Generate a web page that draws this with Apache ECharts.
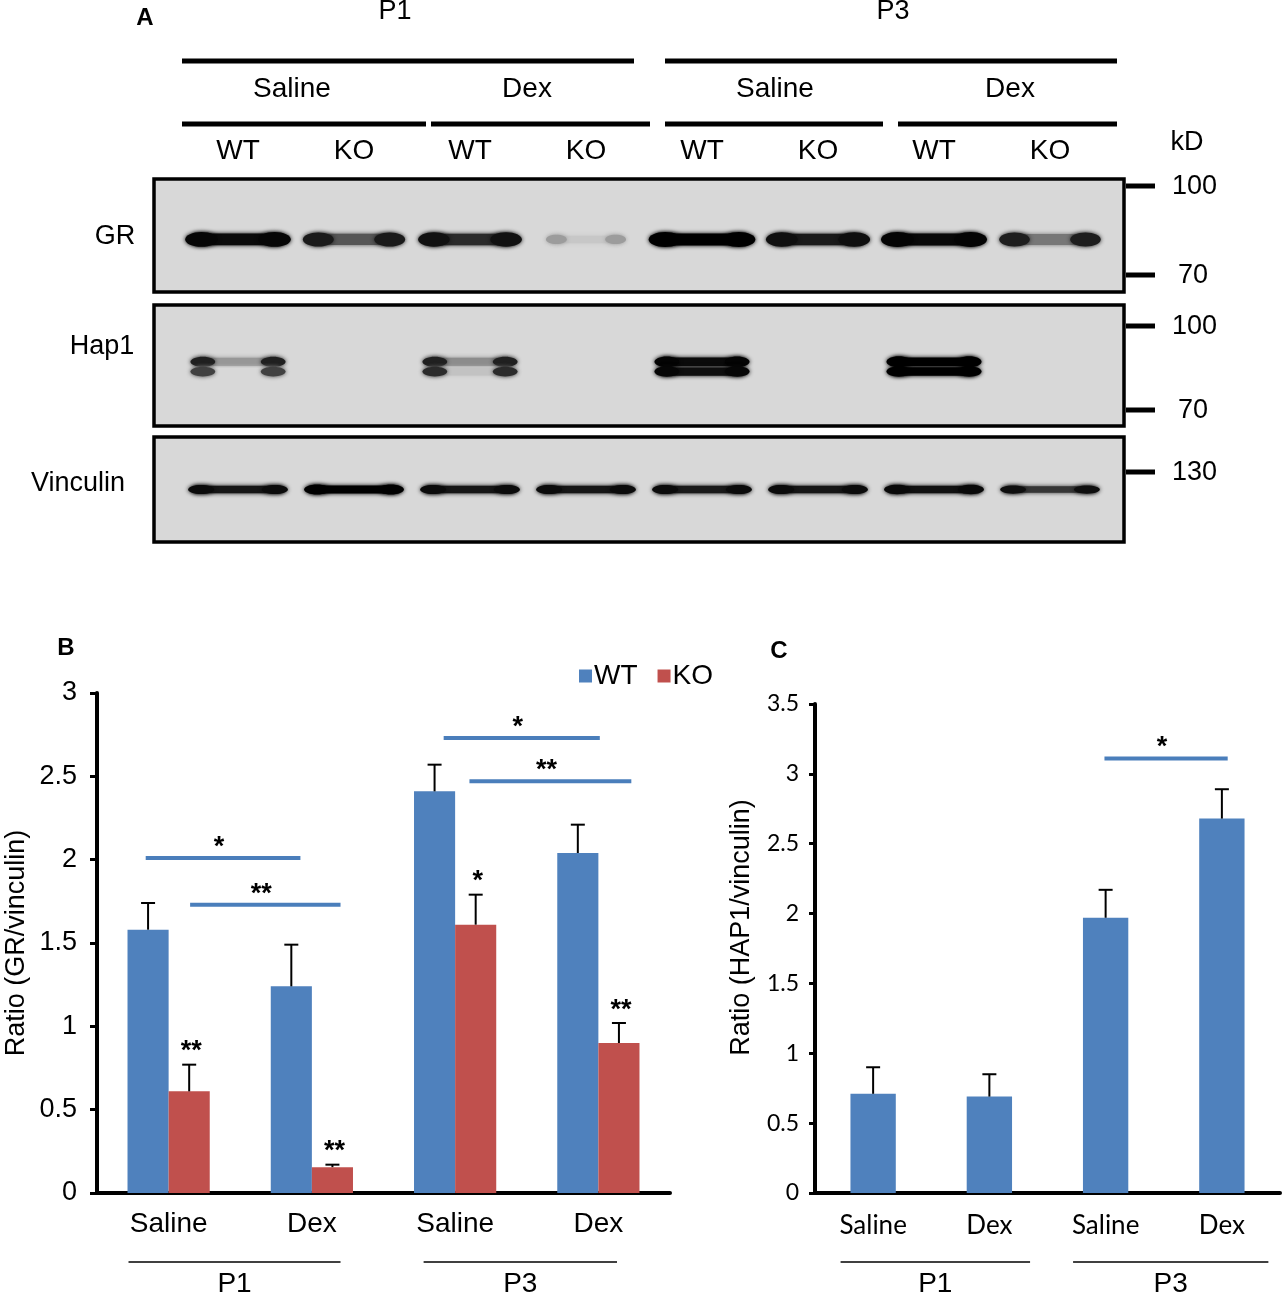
<!DOCTYPE html>
<html><head><meta charset="utf-8">
<script src="https://cdn.jsdelivr.net/npm/echarts@6/dist/echarts.min.js"></script>
<style>html,body{margin:0;padding:0;background:#fff}#c{width:1284px;height:1300px}</style>
</head><body><div id="c"></div>
<script>
// ---------- Panel A (western blot) ----------
const lanes = ['WT','KO','WT','KO','WT','KO','WT','KO'];
const grEnds = [0.97, 0.88, 0.92, 0.28, 1.0, 0.93, 0.98, 0.86];
const grMid  = [0.95, 0.6, 0.8, 0.08, 1.0, 0.88, 0.96, 0.45];
const hap1UpperEnds = [0.85, 0, 0.85, 0, 0.98, 0, 1.0, 0];
const hap1UpperMid  = [0.3, 0, 0.35, 0, 0.95, 0, 1.0, 0];
const hap1LowerEnds = [0.7, 0, 0.8, 0, 0.97, 0, 1.0, 0];
const hap1LowerMid  = [0.0, 0, 0.1, 0, 0.93, 0, 1.0, 0];
const vincEnds = [0.95, 1.0, 0.95, 0.95, 0.95, 0.95, 0.96, 0.93];
const vincMid  = [0.9, 1.0, 0.9, 0.9, 0.88, 0.9, 0.92, 0.75];

// ---------- Panel B ----------
const categoriesB = ['Saline', 'Dex', 'Saline', 'Dex'];
const wtB    = [1.58, 1.24, 2.41, 2.04];
const wtErrB = [0.16, 0.25, 0.16, 0.17];
const koB    = [0.61, 0.155, 1.61, 0.90];
const koErrB = [0.16, 0.015, 0.18, 0.12];
const koStarsB = ['**', '**', '*', '**'];
const sigFromB  = [0.34, 0.65, 2.42, 2.60];
const sigToB    = [1.42, 1.70, 3.51, 3.73];
const sigYB     = [2.01, 1.73, 2.73, 2.47];
const sigLabelB = ['*', '**', '*', '**'];
const groupLabelsB = ['P1', 'P3'];
const groupFromB = [0.22, 2.28];
const groupToB   = [1.70, 3.63];

// ---------- Panel C ----------
const categoriesC = ['Saline', 'Dex', 'Saline', 'Dex'];
const hap1C    = [0.71, 0.69, 1.97, 2.68];
const hap1ErrC = [0.19, 0.16, 0.20, 0.21];
const sigFromC  = [2.49];
const sigToC    = [3.55];
const sigYC     = [3.11];
const sigLabelC = ['*'];
const groupLabelsC = ['P1', 'P3'];
const groupFromC = [0.22, 2.22];
const groupToC   = [1.85, 3.90];

const FONT = 'Liberation Sans';
const FONT_C = 'Lato';
const BLUE = '#4f81bd', RED = '#c0504d', SIG = '#4a7ebb';
const BW_B = 0.287, BW_C = 0.39;
const STAR_FONT = 'bold 27px ' + FONT;

function gray(i) { const v = Math.round(216 * (1 - i)); return 'rgb(' + v + ',' + v + ',' + v + ')'; }

function bandChildren(cx, cy, w, h, ends, mid) {
  const ch = [];
  if (ends <= 0 && mid <= 0) return ch;
  ch.push({ type: 'rect', shape: { x: cx - w / 2 + h * 0.5, y: cy - h * 0.4, width: w - h, height: h * 0.8, r: h * 0.4 },
    style: { fill: gray(mid), shadowBlur: 4, shadowColor: gray(mid) } });
  const rx = Math.max(h * 1.1, w * 0.13);
  ch.push({ type: 'ellipse', shape: { cx: cx - w / 2 + rx, cy: cy, rx: rx, ry: h / 2 },
    style: { fill: gray(ends), shadowBlur: 4, shadowColor: gray(ends) } });
  ch.push({ type: 'ellipse', shape: { cx: cx + w / 2 - rx, cy: cy, rx: rx, ry: h / 2 },
    style: { fill: gray(ends), shadowBlur: 4, shadowColor: gray(ends) } });
  return ch;
}

function blotRenderer(kind) {
  return function (params, api) {
    const lane = api.value(0);
    const cs = params.coordSys;
    const cx = api.coord([lane, 0])[0];
    const lw = api.size([1, 0])[0];
    let children = [];
    if (kind === 'gr') {
      const e = api.value(1), m = api.value(2);
      const w = lw * (0.6 + 0.32 * e);
      const h = 7 + 8 * e;
      children = bandChildren(cx, cs.y + cs.height * 0.535, w, h, e, m);
    } else if (kind === 'hap1') {
      const ue = api.value(1), um = api.value(2), le = api.value(3), lm = api.value(4);
      if (ue > 0) {
        const w = lw * 0.82;
        const h = 6 + 5 * ue;
        children = children.concat(bandChildren(cx, cs.y + cs.height * 0.47, w, h, ue, um));
        children = children.concat(bandChildren(cx, cs.y + cs.height * 0.55, w, h * 0.95, le, lm));
      }
    } else {
      const e = api.value(1), m = api.value(2);
      const w = lw * 0.86;
      const h = 6 + 4 * m * m;
      children = bandChildren(cx, cs.y + cs.height * 0.5, w, h, e, m);
    }
    return { type: 'group', children: children };
  };
}

function errRenderer(side, bwFrac) {
  return function (params, api) {
    const i = api.value(0), v = api.value(1), e = api.value(2);
    const cw = api.size([1, 0])[0];
    const p0 = api.coord([i, v]);
    const p1 = api.coord([i, v + e]);
    const x = p0[0] + side * cw * bwFrac / 2;
    return { type: 'group', children: [
      { type: 'line', shape: { x1: x, y1: p0[1], x2: x, y2: p1[1] }, style: { stroke: '#000', lineWidth: 2 } },
      { type: 'line', shape: { x1: x - 7, y1: p1[1], x2: x + 7, y2: p1[1] }, style: { stroke: '#000', lineWidth: 2 } }
    ] };
  };
}

function starRenderer(side, bwFrac, labels, font) {
  return function (params, api) {
    const i = api.value(0), top = api.value(1);
    const cw = api.size([1, 0])[0];
    const p = api.coord([i, top]);
    const x = p[0] + side * cw * bwFrac / 2 + 2;
    return { type: 'text', style: { text: labels[params.dataIndex], x: x, y: p[1] + 10, align: 'center', verticalAlign: 'bottom', font: font, fill: '#000' } };
  };
}

function sigRenderer(labels, font) {
  return function (params, api) {
    const a = api.coord([api.value(0), api.value(2)]);
    const b = api.coord([api.value(1), api.value(2)]);
    return { type: 'group', children: [
      { type: 'line', shape: { x1: a[0], y1: a[1], x2: b[0], y2: b[1] }, style: { stroke: SIG, lineWidth: 4 } },
      { type: 'text', style: { text: labels[params.dataIndex], x: (a[0] + b[0]) / 2 - 4, y: a[1] + 3, align: 'center', verticalAlign: 'bottom', font: font, fill: '#000' } }
    ] };
  };
}

function groupRenderer(labels, font, lineOff, textOff) {
  return function (params, api) {
    const a = api.coord([api.value(0), 0]);
    const b = api.coord([api.value(1), 0]);
    return { type: 'group', children: [
      { type: 'line', shape: { x1: a[0], y1: a[1] + lineOff, x2: b[0], y2: a[1] + lineOff }, style: { stroke: '#000', lineWidth: 1.5 } },
      { type: 'text', style: { text: labels[params.dataIndex], x: (a[0] + b[0]) / 2, y: a[1] + textOff, align: 'center', verticalAlign: 'middle', font: font, fill: '#000' } }
    ] };
  };
}

// ---------- graphic decorations for panel A ----------
const g = [];
function txt(t, x, y, size, opts) {
  g.push({ type: 'text', x: x, y: y, style: { text: t, font: (opts && opts.bold ? 'bold ' : '') + size + 'px ' + FONT, fill: '#000', align: (opts && opts.align) || 'center', verticalAlign: 'middle' } });
}
function bar(x1, x2, y, h) { g.push({ type: 'rect', shape: { x: x1, y: y - h / 2, width: x2 - x1, height: h }, style: { fill: '#000' } }); }
txt('A', 145, 18, 24, { bold: true });
txt('P1', 395, 12, 27);
txt('P3', 893, 12, 27);
bar(182, 634, 61, 5); bar(665, 1117, 61, 5);
txt('Saline', 292, 89, 28); txt('Dex', 527, 89, 28); txt('Saline', 775, 89, 28); txt('Dex', 1010, 89, 28);
bar(182, 426, 124, 5); bar(431, 650, 124, 5); bar(665, 883, 124, 5); bar(898, 1117, 124, 5);
txt('kD', 1187, 143, 27);
txt('GR', 115, 237, 27); txt('Hap1', 102, 347, 27); txt('Vinculin', 78, 484, 27);
[[186, '100', 1172], [275, '70', 1178], [326, '100', 1172], [410, '70', 1178], [472, '130', 1172]].forEach(function (m) {
  bar(1126, 1155, m[0], 5);
  txt(m[1], m[2], m[0] + 1, 27, { align: 'left' });
});
[[179, 113], [305, 121], [437, 105]].forEach(function (b) {
  g.push({ type: 'rect', z: -10, shape: { x: 154, y: b[0], width: 970, height: b[1] }, style: { fill: '#d8d8d8', stroke: '#000', lineWidth: 3.5 } });
});
txt('B', 66, 648, 24, { bold: true });
txt('C', 779, 651, 24, { bold: true });

const hiddenCat = { type: 'category', data: lanes, show: false };
const hiddenVal = { type: 'value', min: 0, max: 1, show: false };

const chart = echarts.init(document.getElementById('c'), null, { renderer: 'canvas' });
chart.setOption({
  backgroundColor: '#fff',
  animation: false,
  textStyle: { fontFamily: FONT },
  graphic: { elements: g },
  legend: {
    data: ['WT', 'KO'], left: 574, top: 657, itemWidth: 13, itemHeight: 13, itemGap: 20,
    textStyle: { fontSize: 28, color: '#000', fontFamily: FONT, padding: [0, 0, 0, -3] }, icon: 'rect'
  },
  grid: [
    { left: 97, top: 693, width: 573, height: 500, outerBoundsMode: 'none', containLabel: false },
    { left: 815, top: 704, width: 465, height: 489, outerBoundsMode: 'none', containLabel: false },
    { left: 180, top: 179, width: 928, height: 113, outerBoundsMode: 'none', containLabel: false },
    { left: 180, top: 305, width: 928, height: 121, outerBoundsMode: 'none', containLabel: false },
    { left: 180, top: 437, width: 928, height: 105, outerBoundsMode: 'none', containLabel: false }
  ],
  xAxis: [
    { type: 'category', gridIndex: 0, data: categoriesB,
      axisLine: { lineStyle: { color: '#000', width: 4 } }, axisTick: { show: false },
      axisLabel: { fontSize: 28, color: '#000', margin: 17, fontFamily: FONT } },
    { type: 'value', gridIndex: 0, min: 0, max: 4, show: false },
    { type: 'category', gridIndex: 1, data: categoriesC,
      axisLine: { lineStyle: { color: '#000', width: 4 } }, axisTick: { show: false },
      axisLabel: { fontSize: 26, color: '#000', margin: 20, fontFamily: FONT_C } },
    { type: 'value', gridIndex: 1, min: 0, max: 4, show: false },
    { type: 'category', gridIndex: 2, data: lanes, position: 'top',
      axisLine: { show: false }, axisTick: { show: false },
      axisLabel: { fontSize: 28, color: '#000', margin: 14, fontFamily: FONT } },
    Object.assign({ gridIndex: 3 }, hiddenCat),
    Object.assign({ gridIndex: 4 }, hiddenCat)
  ],
  yAxis: [
    { type: 'value', gridIndex: 0, min: 0, max: 3, interval: 0.5,
      name: 'Ratio (GR/vinculin)', nameLocation: 'middle', nameGap: 67, nameRotate: 90,
      nameTextStyle: { fontSize: 27, color: '#000', fontFamily: FONT },
      axisLine: { show: true, lineStyle: { color: '#000', width: 4 } },
      axisTick: { show: true, length: 7, lineStyle: { color: '#000', width: 3 } },
      axisLabel: { fontSize: 27, color: '#000', margin: 20, fontFamily: FONT },
      splitLine: { show: false } },
    { type: 'value', gridIndex: 1, min: 0, max: 3.5, interval: 0.5,
      name: 'Ratio (HAP1/vinculin)', nameLocation: 'middle', nameGap: 60, nameRotate: 90,
      nameTextStyle: { fontSize: 27, color: '#000', fontFamily: FONT, padding: [0, 0, 0, 42] },
      axisLine: { show: true, lineStyle: { color: '#000', width: 4 } },
      axisTick: { show: true, length: 6, lineStyle: { color: '#000', width: 3 } },
      axisLabel: { fontSize: 23, color: '#000', margin: 16, fontFamily: FONT_C },
      splitLine: { show: false } },
    Object.assign({ gridIndex: 2 }, hiddenVal),
    Object.assign({ gridIndex: 3 }, hiddenVal),
    Object.assign({ gridIndex: 4 }, hiddenVal)
  ],
  series: [
    { name: 'WT', type: 'bar', xAxisIndex: 0, yAxisIndex: 0, data: wtB, barWidth: (BW_B * 100) + '%', barGap: '0%', itemStyle: { color: BLUE } },
    { name: 'KO', type: 'bar', xAxisIndex: 0, yAxisIndex: 0, data: koB, barWidth: (BW_B * 100) + '%', barGap: '0%', itemStyle: { color: RED } },
    { type: 'custom', xAxisIndex: 0, yAxisIndex: 0, clip: false, z: 5,
      data: wtB.map(function (v, i) { return [i, v, wtErrB[i]]; }), renderItem: errRenderer(-1, BW_B) },
    { type: 'custom', xAxisIndex: 0, yAxisIndex: 0, clip: false, z: 5,
      data: koB.map(function (v, i) { return [i, v, koErrB[i]]; }), renderItem: errRenderer(1, BW_B) },
    { type: 'custom', xAxisIndex: 0, yAxisIndex: 0, clip: false, z: 5,
      data: koB.map(function (v, i) { return [i, v + koErrB[i] + 0.055]; }), renderItem: starRenderer(1, BW_B, koStarsB, STAR_FONT) },
    { type: 'custom', xAxisIndex: 1, yAxisIndex: 0, clip: false, z: 5,
      data: sigFromB.map(function (v, i) { return [v, sigToB[i], sigYB[i]]; }), renderItem: sigRenderer(sigLabelB, STAR_FONT) },
    { type: 'custom', xAxisIndex: 1, yAxisIndex: 0, clip: false, z: 5,
      data: groupFromB.map(function (v, i) { return [v, groupToB[i]]; }), renderItem: groupRenderer(groupLabelsB, '28px ' + FONT, 69, 91) },

    { name: 'HAP1', type: 'bar', xAxisIndex: 2, yAxisIndex: 1, data: hap1C, barWidth: (BW_C * 100) + '%', itemStyle: { color: BLUE } },
    { type: 'custom', xAxisIndex: 2, yAxisIndex: 1, clip: false, z: 5,
      data: hap1C.map(function (v, i) { return [i, v, hap1ErrC[i]]; }), renderItem: errRenderer(0, BW_C) },
    { type: 'custom', xAxisIndex: 3, yAxisIndex: 1, clip: false, z: 5,
      data: sigFromC.map(function (v, i) { return [v, sigToC[i], sigYC[i]]; }), renderItem: sigRenderer(sigLabelC, STAR_FONT) },
    { type: 'custom', xAxisIndex: 3, yAxisIndex: 1, clip: false, z: 5,
      data: groupFromC.map(function (v, i) { return [v, groupToC[i]]; }), renderItem: groupRenderer(groupLabelsC, '28px ' + FONT, 69, 91) },

    { type: 'custom', xAxisIndex: 4, yAxisIndex: 2, clip: false,
      data: lanes.map(function (l, i) { return [i, grEnds[i], grMid[i]]; }), renderItem: blotRenderer('gr') },
    { type: 'custom', xAxisIndex: 5, yAxisIndex: 3, clip: false,
      data: lanes.map(function (l, i) { return [i, hap1UpperEnds[i], hap1UpperMid[i], hap1LowerEnds[i], hap1LowerMid[i]]; }), renderItem: blotRenderer('hap1') },
    { type: 'custom', xAxisIndex: 6, yAxisIndex: 4, clip: false,
      data: lanes.map(function (l, i) { return [i, vincEnds[i], vincMid[i]]; }), renderItem: blotRenderer('vinc') }
  ]
});
</script>
</body></html>
